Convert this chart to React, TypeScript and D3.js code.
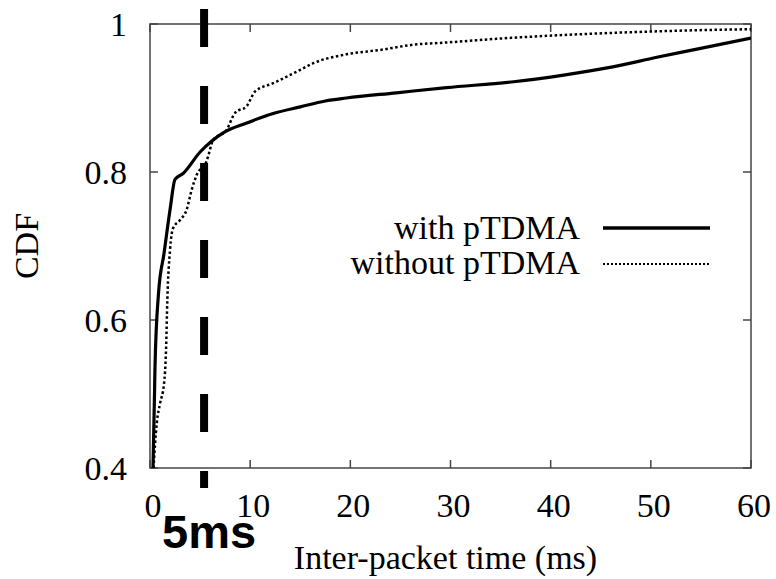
import * as d3 from 'd3';
import React from 'react';

// CDF of inter-packet time
const withX = [0.3, 0.45, 0.5, 0.85, 1.4, 2.0, 2.5, 3.3, 5.0, 7.3, 9.6, 12.3, 15.0, 17.5, 19.6, 24.6, 29.6, 36.3, 41.3, 46.2, 50.6, 54.6, 60];
const withY = [0.4, 0.5, 0.537, 0.636, 0.69, 0.749, 0.79, 0.798, 0.827, 0.853, 0.866, 0.879, 0.888, 0.896, 0.9, 0.907, 0.914, 0.922, 0.931, 0.942, 0.955, 0.966, 0.981];

const withoutX = [0.35, 0.67, 1.0, 1.4, 1.6, 1.73, 2.0, 2.3, 3.0, 3.66, 4.16, 4.66, 5.66, 6.3, 7.65, 8.5, 9.65, 10.5, 12.3, 15.0, 16.3, 19.6, 23.0, 26.3, 29.6, 34.6, 39.6, 46.2, 52.9, 60];
const withoutY = [0.4, 0.46, 0.487, 0.514, 0.559, 0.627, 0.695, 0.724, 0.735, 0.749, 0.776, 0.796, 0.815, 0.843, 0.857, 0.88, 0.889, 0.909, 0.92, 0.938, 0.947, 0.959, 0.965, 0.972, 0.975, 0.98, 0.984, 0.988, 0.991, 0.993];

const xTicks = [0, 10, 20, 30, 40, 50, 60];
const yTicks = [0.4, 0.6, 0.8, 1];
const thresholdMs = 5;

const W = 776, H = 579;
const margin = { top: 24, right: 25, bottom: 111, left: 150 };
const serif = '"Liberation Serif", "Times New Roman", serif';

export default function App() {
  const x = d3.scaleLinear().domain([0, 60]).range([margin.left, W - margin.right]);
  const y = d3.scaleLinear().domain([0.4, 1]).range([H - margin.bottom, margin.top]);

  const line = d3.line<[number, number]>().x(d => x(d[0])).y(d => y(d[1])).curve(d3.curveMonotoneX);
  const withPts = withX.map((v, i) => [v, withY[i]] as [number, number]);
  const withoutPts = withoutX.map((v, i) => [v, withoutY[i]] as [number, number]);

  const x0 = x(0), x1 = x(60), yTop = y(1), yBot = y(0.4);

  return (
    <svg width={W} height={H} style={{ position: 'absolute', left: 0, top: 0, background: '#fff' }}>
      <defs>
        <clipPath id="plot">
          <rect x={x0} y={yTop} width={x1 - x0} height={yBot - yTop} />
        </clipPath>
      </defs>

      {/* frame + inward ticks */}
      <rect x={x0} y={yTop} width={x1 - x0} height={yBot - yTop} fill="none" stroke="#444" strokeWidth={1.5} />
      {xTicks.map(t => (
        <g key={'x' + t}>
          <line x1={x(t)} x2={x(t)} y1={yBot} y2={yBot - 8} stroke="#444" strokeWidth={1.5} />
          <line x1={x(t)} x2={x(t)} y1={yTop} y2={yTop + 8} stroke="#444" strokeWidth={1.5} />
          <text x={x(t) + 3} y={517} textAnchor="middle" fontFamily={serif} fontSize={34} fill="#000">{t}</text>
        </g>
      ))}
      {yTicks.map(t => (
        <g key={'y' + t}>
          <line x1={x0} x2={x0 + 8} y1={y(t)} y2={y(t)} stroke="#444" strokeWidth={1.5} />
          <line x1={x1} x2={x1 - 8} y1={y(t)} y2={y(t)} stroke="#444" strokeWidth={1.5} />
          <text x={127} y={y(t) + 12} textAnchor="end" fontFamily={serif} fontSize={34} fill="#000">{t}</text>
        </g>
      ))}

      {/* curves */}
      <g clipPath="url(#plot)">
        <path d={line(withoutPts) ?? ''} fill="none" stroke="#000" strokeWidth={2.5} strokeDasharray="2.5 2.5" />
        <path d={line(withPts) ?? ''} fill="none" stroke="#000" strokeWidth={3.2} strokeLinejoin="round" />
      </g>

      {/* 5ms marker */}
      <line x1={x(thresholdMs) + 4} x2={x(thresholdMs) + 4} y1={yTop - 15} y2={yBot + 20}
        stroke="#000" strokeWidth={8} strokeDasharray="38 39" />

      {/* legend */}
      <text x={580} y={239} textAnchor="end" fontFamily={serif} fontSize={34} fill="#000">with pTDMA</text>
      <line x1={603} x2={710} y1={228} y2={228} stroke="#000" strokeWidth={3.5} />
      <text x={580} y={274} textAnchor="end" fontFamily={serif} fontSize={34} fill="#000">without pTDMA</text>
      <line x1={603} x2={710} y1={264} y2={264} stroke="#000" strokeWidth={2} strokeDasharray="2 2" />

      {/* axis titles */}
      <text transform={`translate(38,${(yTop + yBot) / 2}) rotate(-90)`} textAnchor="middle" fontFamily={serif} fontSize={34} fill="#000">CDF</text>
      <text x={(x0 + x1) / 2 - 5} y={569} textAnchor="middle" fontFamily={serif} fontSize={34} fill="#000">Inter-packet time (ms)</text>
      <text x={162} y={548} fontFamily='"Liberation Sans", Arial, sans-serif' fontWeight="bold" fontSize={47} fill="#000">5ms</text>
    </svg>
  );
}
